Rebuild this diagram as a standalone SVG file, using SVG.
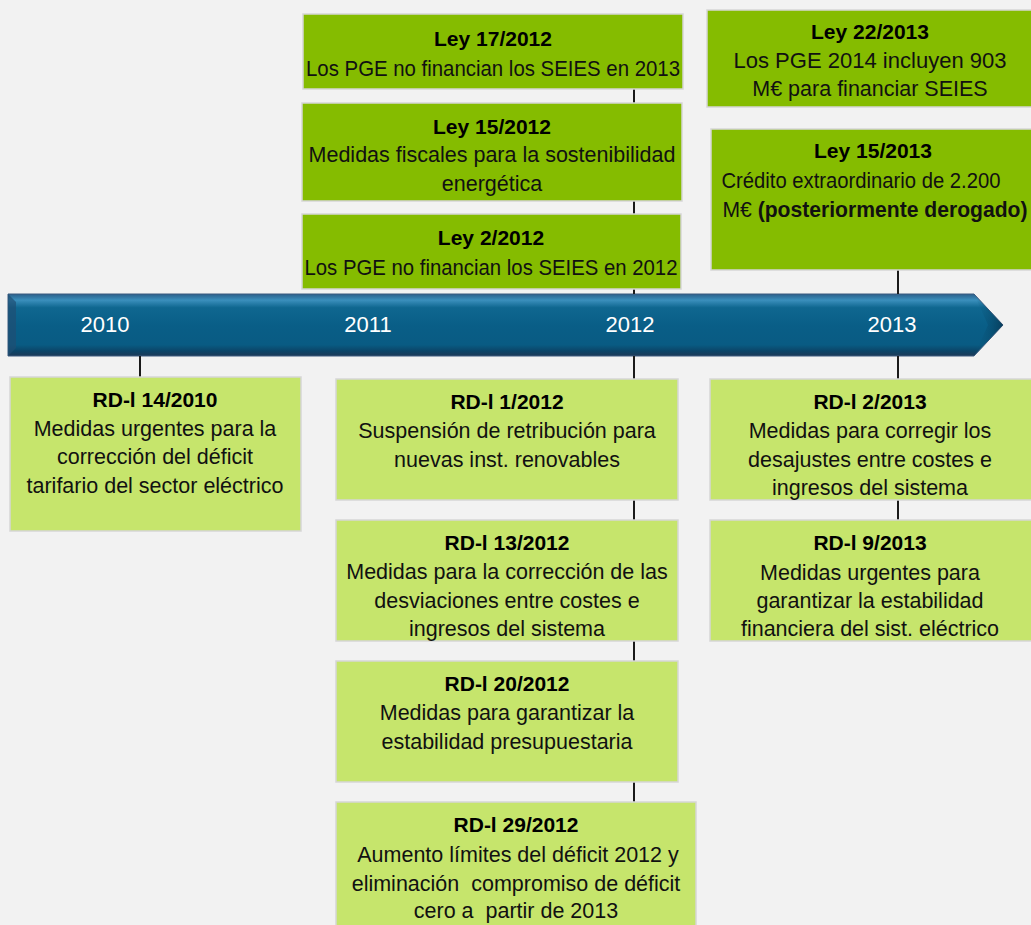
<svg xmlns="http://www.w3.org/2000/svg" width="1031" height="925" viewBox="0 0 1031 925">
<style>
.bg{fill:#f2f2f2}
.dk{fill:#85bc00;stroke:#d6d6d6;stroke-width:1.5}
.lt{fill:#c6e56c;stroke:#d6d6d6;stroke-width:1.5}
.t{font-family:"Liberation Sans",Arial,sans-serif;font-size:21px;font-weight:bold;fill:#000;text-anchor:middle}
.b{font-family:"Liberation Sans",Arial,sans-serif;font-size:21.5px;fill:#111;text-anchor:middle}
.yr{font-family:"Liberation Sans",Arial,sans-serif;font-size:22px;fill:#fff;text-anchor:middle}
.c{stroke:#1a1a1a;stroke-width:2;fill:none}
</style>
<defs>
<linearGradient id="ag" x1="0" y1="0" x2="0" y2="1">
<stop offset="0" stop-color="#2b5f8a"/>
<stop offset="0.1" stop-color="#3a8fbc"/>
<stop offset="0.22" stop-color="#0f6790"/>
<stop offset="0.5" stop-color="#095e87"/>
<stop offset="0.82" stop-color="#095b83"/>
<stop offset="0.92" stop-color="#0b4568"/>
<stop offset="1" stop-color="#1d3a58"/>
</linearGradient>
<linearGradient id="tip" x1="0" y1="0" x2="1" y2="0">
<stop offset="0" stop-color="#0a5a82" stop-opacity="0"/>
<stop offset="1" stop-color="#06283f" stop-opacity="0.6"/>
</linearGradient>
</defs>
<rect class="bg" x="0" y="0" width="1031" height="925"/>

<g id="timeline">
<path d="M8,294 L974,294 L1003,325 L974,356 L8,356 Z" fill="url(#ag)" stroke="#3c5c80" stroke-width="1"/>
<path d="M974,294 L1003,325 L974,356 L988,325 Z" fill="url(#tip)"/>
<path d="M8,294 L16,302 L16,348 L8,356 Z" fill="#1f4f73" opacity="0.7"/>
<text class="yr" x="105" y="332">2010</text>
<text class="yr" x="368" y="332">2011</text>
<text class="yr" x="630" y="332">2012</text>
<text class="yr" x="892" y="332">2013</text>
</g>

<g id="connectors">
<line class="c" x1="140" y1="356" x2="140" y2="377"/>
<line class="c" x1="634" y1="89" x2="634" y2="103"/>
<line class="c" x1="634" y1="201" x2="634" y2="214"/>
<line class="c" x1="634" y1="289" x2="634" y2="294"/>
<line class="c" x1="634" y1="356" x2="634" y2="379"/>
<line class="c" x1="634" y1="500" x2="634" y2="520"/>
<line class="c" x1="634" y1="641" x2="634" y2="661"/>
<line class="c" x1="634" y1="782" x2="634" y2="802"/>
<line class="c" x1="898" y1="270" x2="898" y2="294"/>
<line class="c" x1="898" y1="356" x2="898" y2="379"/>
<line class="c" x1="898" y1="500" x2="898" y2="520"/>
</g>

<g id="ley17_2012">
<rect class="dk" x="303" y="14" width="380" height="75"/>
<text class="t" x="493" y="46">Ley 17/2012</text>
<text class="b" x="493" y="76" textLength="374" lengthAdjust="spacingAndGlyphs">Los PGE no financian los SEIES en 2013</text>
</g>
<g id="ley15_2012">
<rect class="dk" x="302" y="103" width="380" height="98"/>
<text class="t" x="492" y="134">Ley 15/2012</text>
<text class="b" x="492" y="162">Medidas fiscales para la sostenibilidad</text>
<text class="b" x="492" y="191">energética</text>
</g>
<g id="ley2_2012">
<rect class="dk" x="302" y="214" width="379" height="75"/>
<text class="t" x="491" y="245">Ley 2/2012</text>
<text class="b" x="491" y="275" textLength="373" lengthAdjust="spacingAndGlyphs">Los PGE no financian los SEIES en 2012</text>
</g>
<g id="ley22_2013">
<rect class="dk" x="707" y="10" width="330" height="97"/>
<text class="t" x="870" y="39">Ley 22/2013</text>
<text class="b" x="870" y="68" textLength="273" lengthAdjust="spacingAndGlyphs">Los PGE 2014 incluyen 903</text>
<text class="b" x="870" y="96">M€ para financiar SEIES</text>
</g>
<g id="ley15_2013">
<rect class="dk" x="711" y="129" width="330" height="141"/>
<text class="t" x="873" y="158">Ley 15/2013</text>
<text class="b" x="861" y="188" textLength="279" lengthAdjust="spacingAndGlyphs">Crédito extraordinario de 2.200</text>
<text class="b" x="875" y="217" textLength="305" lengthAdjust="spacingAndGlyphs">M€ <tspan font-weight="bold">(posteriormente derogado)</tspan></text>
</g>

<g id="rdl14_2010">
<rect class="lt" x="10" y="377" width="291" height="154"/>
<text class="t" x="155" y="407">RD-l 14/2010</text>
<text class="b" x="155" y="436">Medidas urgentes para la</text>
<text class="b" x="155" y="464">corrección del déficit</text>
<text class="b" x="155" y="493">tarifario del sector eléctrico</text>
</g>
<g id="rdl1_2012">
<rect class="lt" x="336" y="379" width="342" height="121"/>
<text class="t" x="507" y="409">RD-l 1/2012</text>
<text class="b" x="507" y="438">Suspensión de retribución para</text>
<text class="b" x="507" y="467">nuevas inst. renovables</text>
</g>
<g id="rdl13_2012">
<rect class="lt" x="336" y="520" width="342" height="121"/>
<text class="t" x="507" y="550">RD-l 13/2012</text>
<text class="b" x="507" y="579">Medidas para la corrección de las</text>
<text class="b" x="507" y="608">desviaciones entre costes e</text>
<text class="b" x="507" y="636">ingresos del sistema</text>
</g>
<g id="rdl20_2012">
<rect class="lt" x="336" y="661" width="342" height="121"/>
<text class="t" x="507" y="691">RD-l 20/2012</text>
<text class="b" x="507" y="720">Medidas para garantizar la</text>
<text class="b" x="507" y="749">estabilidad presupuestaria</text>
</g>
<g id="rdl29_2012">
<rect class="lt" x="336" y="802" width="360" height="130"/>
<text class="t" x="516" y="832">RD-l 29/2012</text>
<text class="b" x="518" y="862">Aumento límites del déficit 2012 y</text>
<text class="b" x="516" y="891" xml:space="preserve">eliminación  compromiso de déficit</text>
<text class="b" x="516" y="918" xml:space="preserve">cero a  partir de 2013</text>
</g>
<g id="rdl2_2013">
<rect class="lt" x="710" y="379" width="330" height="121"/>
<text class="t" x="870" y="409">RD-l 2/2013</text>
<text class="b" x="870" y="438">Medidas para corregir los</text>
<text class="b" x="870" y="467">desajustes entre costes e</text>
<text class="b" x="870" y="495">ingresos del sistema</text>
</g>
<g id="rdl9_2013">
<rect class="lt" x="710" y="520" width="330" height="121"/>
<text class="t" x="870" y="550">RD-l 9/2013</text>
<text class="b" x="870" y="580">Medidas urgentes para</text>
<text class="b" x="870" y="608">garantizar la estabilidad</text>
<text class="b" x="870" y="636">financiera del sist. eléctrico</text>
</g>
</svg>
